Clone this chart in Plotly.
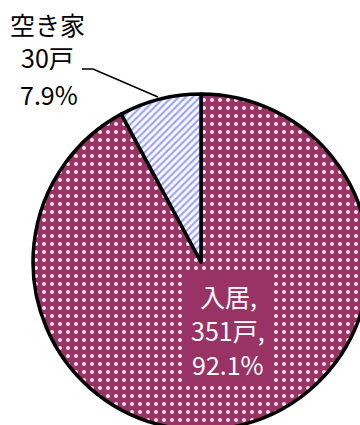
import plotly.graph_objects as go

# 住戸の入居状況
labels = ["入居", "空き家"]
units = [351, 30]
unit_suffix = "戸"

total = sum(units)
shares = [u / total * 100 for u in units]

W, H = 370, 432
FONT = "Noto Sans CJK JP"


def px(x):
    return x / W


def py(y):
    return 1 - y / H


fig = go.Figure(
    go.Pie(
        labels=labels,
        values=units,
        sort=False,
        direction="clockwise",
        rotation=0,
        textinfo="none",
        hoverinfo="label+value+percent",
        showlegend=False,
        domain=dict(x=[px(33), px(369)], y=[py(430), py(94)]),
        marker=dict(
            colors=["#993366", "#ffffff"],
            line=dict(color="#000000", width=3.5),
            pattern=dict(
                shape=[".", "/"],
                fgcolor=["#f2e0ea", "#9da3ff"],
                bgcolor=["#993366", "#ffffff"],
                size=[8, 5],
                solidity=[0.2, 0.45],
                fillmode="replace",
            ),
        ),
    )
)

# 入居ラベルの背景
fig.add_shape(
    type="rect", xref="paper", yref="paper",
    x0=px(182), x1=px(273), y0=py(385), y1=py(272),
    fillcolor="#993366", line=dict(width=0), layer="above",
)

inside_lines = [f"{labels[0]},", f"{units[0]}{unit_suffix},", f"{shares[0]:.1f}%"]
for text, yc in zip(inside_lines, [296, 330, 364]):
    fig.add_annotation(
        text=text, xref="paper", yref="paper", x=px(228), y=py(yc),
        xanchor="center", yanchor="middle", showarrow=False,
        font=dict(family=FONT, size=25, color="#ffffff"),
    )

outside_lines = [labels[1], f"{units[1]}{unit_suffix}", f"{shares[1]:.1f}%"]
for text, xc, yc in zip(outside_lines, [47, 47, 49], [24, 57, 94]):
    fig.add_annotation(
        text=text, xref="paper", yref="paper", x=px(xc), y=py(yc),
        xanchor="center", yanchor="middle", showarrow=False,
        font=dict(family=FONT, size=25, color="#000000"),
    )

# 引き出し線
fig.add_shape(
    type="path", xref="paper", yref="paper",
    path=f"M {px(82)} {py(69)} L {px(93)} {py(69)} L {px(158)} {py(97)}",
    line=dict(color="#000000", width=1.5),
)

fig.update_layout(
    width=W, height=H,
    margin=dict(l=0, r=0, t=0, b=0),
    paper_bgcolor="#ffffff",
    plot_bgcolor="#ffffff",
)

fig.write_html(
    "out.html",
    post_script="document.documentElement.style.overflow='hidden';document.body.style.overflow='hidden';",
)
